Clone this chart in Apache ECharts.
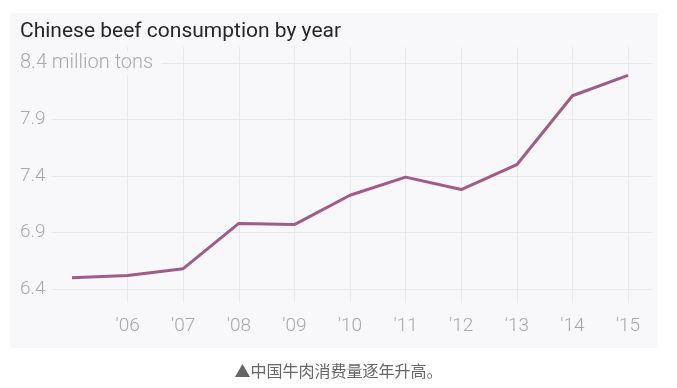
<!DOCTYPE html>
<html><head><meta charset="utf-8">
<script src="https://cdn.jsdelivr.net/npm/echarts@6/dist/echarts.min.js"></script>
<style>html,body{margin:0;padding:0;background:#fff}#c{width:677px;height:388px}</style>
</head><body><div id="c"></div>
<script>
const years = ['2005','2006','2007','2008','2009','2010','2011','2012','2013','2014','2015'];
const yearLabels = ['', "′06", "′07", "′08", "′09", "′10", "′11", "′12", "′13", "′14", "′15"];
const consumption = [6.50, 6.52, 6.58, 6.98, 6.97, 7.23, 7.39, 7.28, 7.50, 8.11, 8.29];
const yTicks = [6.4, 6.9, 7.4, 7.9, 8.4];
const unitLabel = 'million tons';
const titleText = 'Chinese beef consumption by year';
const captionText = '▲中国牛肉消费量逐年升高。';

const chart = echarts.init(document.getElementById('c'));
const gridColor = '#e9e9ed';
const labelColor = '#a9a9ad';
const fontFam = 'Roboto, sans-serif';
chart.setOption({
  animation: false,
  backgroundColor: '#ffffff',
  graphic: [
    { type: 'rect', z: -10, shape: { x: 10, y: 13, width: 648, height: 335, r: 3 }, style: { fill: '#f8f8fa' } },
    { type: 'text', left: 20, top: 21, style: { text: titleText, font: '400 21px Roboto, sans-serif', fill: '#262626' } },
    { type: 'text', left: 'center', top: 363, style: { text: captionText, font: '16px "Noto Sans CJK SC", sans-serif', fill: '#666666' } }
  ],
  grid: [
    { left: 50, right: 25, top: 63, bottom: 99 },
    { left: 72, right: 49, top: 63, bottom: 99 },
    { left: 72, right: 49, top: 47, bottom: 85 }
  ],
  xAxis: [
    { gridIndex: 0, type: 'value', show: false, min: 0, max: 1 },
    { gridIndex: 1, type: 'category', data: years, boundaryGap: false, show: false },
    { gridIndex: 2, type: 'category', data: yearLabels, boundaryGap: false,
      axisLine: { show: false }, axisTick: { show: false },
      axisLabel: { color: labelColor, fontFamily: fontFam, fontWeight: 300, fontSize: 19, margin: 14,
        interval: function (i) { return i > 0; } },
      splitLine: { show: true, interval: function (i) { return i > 0; }, lineStyle: { color: gridColor, width: 1 } } }
  ],
  yAxis: [
    { gridIndex: 0, type: 'value', min: yTicks[0], max: yTicks[yTicks.length - 1], interval: 0.5,
      axisLine: { show: false }, axisTick: { show: false },
      splitLine: { show: true, lineStyle: { color: gridColor, width: 1 } },
      axisLabel: { align: 'left', margin: 30, color: labelColor, fontFamily: fontFam, fontWeight: 300, fontSize: 19,
        formatter: function (v) {
          const t = (Math.round(v * 10) / 10).toFixed(1);
          return Math.abs(v - yTicks[yTicks.length - 1]) < 1e-6 ? '{b|' + t + ' ' + unitLabel + '}' : '{n|' + t + '}';
        },
        rich: {
          b: { color: labelColor, fontFamily: fontFam, fontWeight: 300, fontSize: 20, backgroundColor: '#f8f8fa', padding: [2, 8, 2, 0] },
          n: { color: labelColor, fontFamily: fontFam, fontWeight: 300, fontSize: 19, backgroundColor: '#f8f8fa', padding: [2, 6, 2, 0] }
        } } },
    { gridIndex: 1, type: 'value', min: yTicks[0], max: yTicks[yTicks.length - 1], show: false },
    { gridIndex: 2, type: 'value', show: false }
  ],
  series: [
    { type: 'line', xAxisIndex: 1, yAxisIndex: 1, data: consumption, showSymbol: false, symbol: 'none',
      lineStyle: { color: '#a05c86', width: 3, join: 'round' } }
  ]
});
</script></body></html>
